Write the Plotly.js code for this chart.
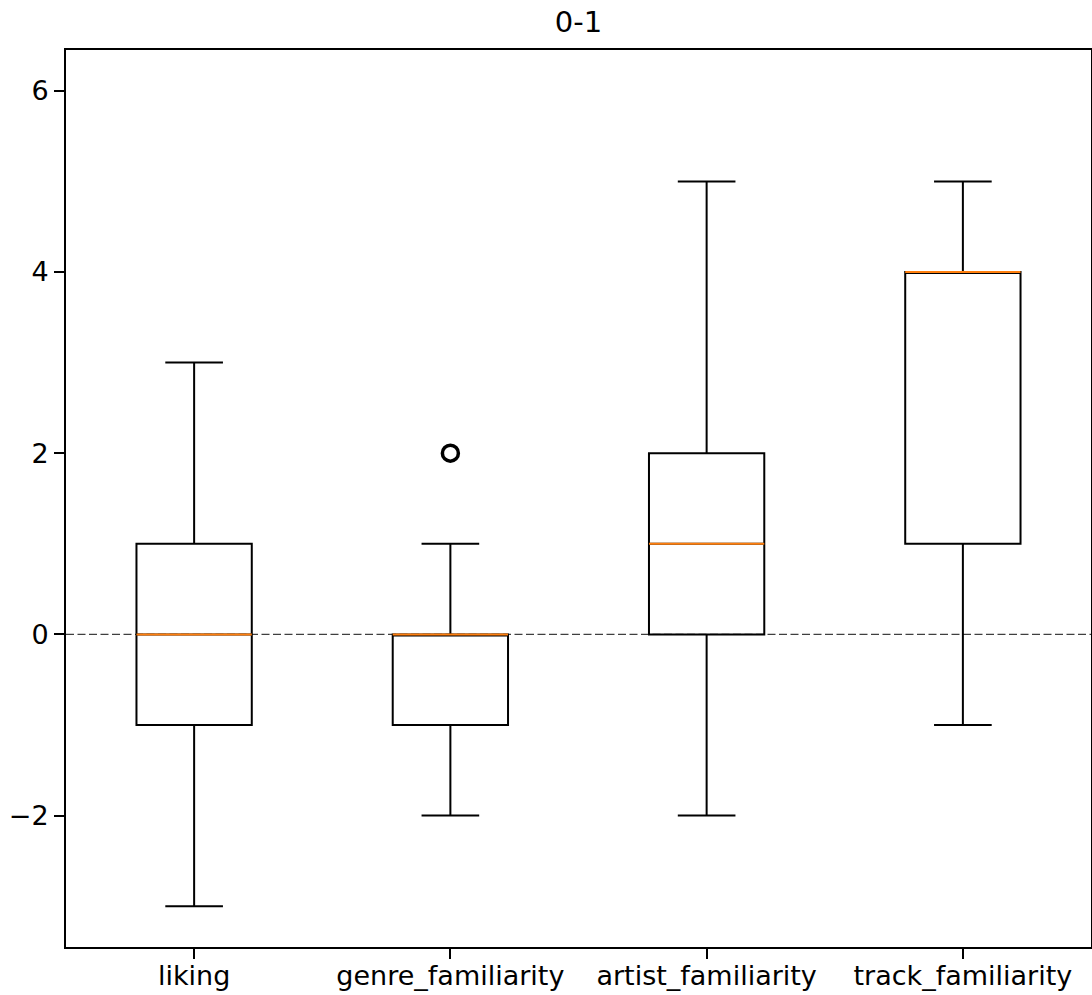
<!DOCTYPE html>
<html>
<head>
<meta charset="utf-8">
<script src="https://cdn.plot.ly/plotly-3.0.1.min.js"></script>
<style>
  html, body { margin: 0; padding: 0; background: #fff; overflow: hidden; }
  #chart { width: 1092px; height: 995px; }
</style>
</head>
<body>
<div id="chart"></div>
<script>
// Summary statistics per rating dimension
const categories = ["liking", "genre_familiarity", "artist_familiarity", "track_familiarity"];
const positions = [1, 2, 3, 4];
const lowerWhisker = [-3, -2, -2, -1];
const q1Values = [-1, -1, 0, 1];
const medianValues = [0, 0, 1, 4];
const q3Values = [1, 0, 2, 4];
const upperWhisker = [3, 1, 5, 5];
// Points beyond the whiskers
const outlierPositions = [2];
const outlierValues = [2];
const yTicks = [-2, 0, 2, 4, 6];

const BOX_WIDTH = 0.45;
const FONT = "DejaVu Sans, sans-serif";

const boxTrace = {
  type: "box",
  x: positions,
  q1: q1Values,
  median: medianValues,
  q3: q3Values,
  lowerfence: lowerWhisker,
  upperfence: upperWhisker,
  boxpoints: false,
  width: BOX_WIDTH,
  whiskerwidth: 0.5,
  fillcolor: "rgba(0,0,0,0)",
  line: { color: "#000000", width: 2 },
  hoverinfo: "skip",
  showlegend: false
};

const outlierTrace = {
  type: "scatter",
  mode: "markers",
  x: outlierPositions,
  y: outlierValues,
  marker: {
    symbol: "circle-open",
    size: 16,
    color: "#000000",
    line: { color: "#000000", width: 3.5 }
  },
  hoverinfo: "skip",
  showlegend: false
};

// Orange median lines and dashed reference at zero
const shapes = positions.map((p, i) => ({
  type: "line",
  xref: "x", yref: "y",
  x0: p - BOX_WIDTH / 2, x1: p + BOX_WIDTH / 2,
  y0: medianValues[i], y1: medianValues[i],
  line: { color: "#ff7f0e", width: 2 },
  layer: "above"
}));
shapes.unshift({
  type: "line",
  xref: "paper", yref: "y",
  x0: 0, x1: 1, y0: 0, y1: 0,
  line: { color: "#000000", width: 1.4, dash: "8px,3.5px" },
  opacity: 0.75,
  layer: "below"
});

const axisCommon = {
  showgrid: false,
  zeroline: false,
  showline: true,
  mirror: true,
  linecolor: "#000000",
  linewidth: 2,
  ticks: "outside",
  ticklen: 10,
  tickwidth: 2,
  tickcolor: "#000000",
  tickfont: { family: FONT, size: 27, color: "#000000" }
};

const layout = {
  width: 1092,
  height: 995,
  margin: { l: 66, r: 1, t: 50, b: 48, pad: 0 },
  paper_bgcolor: "#ffffff",
  plot_bgcolor: "#ffffff",
  title: {
    text: "0-1",
    font: { family: FONT, size: 29, color: "#000000" },
    x: 0.5, xref: "paper",
    y: 1 - 22 / 995, yref: "container",
    xanchor: "center", yanchor: "middle"
  },
  xaxis: Object.assign({}, axisCommon, {
    range: [0.5, 4.5],
    tickmode: "array",
    tickvals: positions,
    ticktext: categories,
    ticklabelstandoff: -6
  }),
  yaxis: Object.assign({}, axisCommon, {
    range: [-3.45, 6.45],
    tickmode: "array",
    tickvals: yTicks
  }),
  shapes: shapes,
  showlegend: false
};

Plotly.newPlot("chart", [boxTrace, outlierTrace], layout, { staticPlot: true, displayModeBar: false });
</script>
</body>
</html>
